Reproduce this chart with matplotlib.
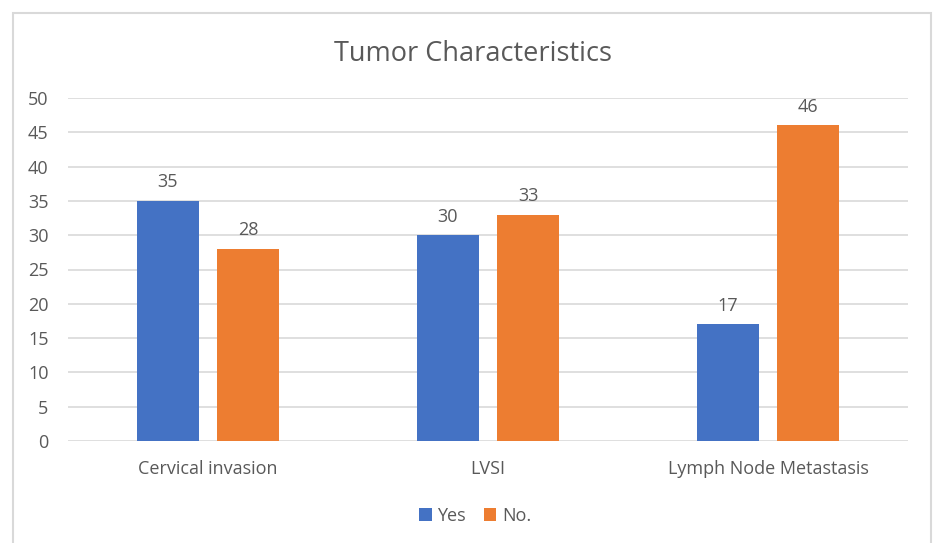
import matplotlib.pyplot as plt
import matplotlib.patches as mpatches
import numpy as np

categories = ["Cervical invasion", "LVSI", "Lymph Node Metastasis"]
yes_values = [35, 30, 17]
no_values = [28, 33, 46]
y_ticks = [0, 5, 10, 15, 20, 25, 30, 35, 40, 45, 50]

plt.rcParams['font.family'] = ['Open Sans', 'DejaVu Sans']
text_color = '#595959'

fig = plt.figure(figsize=(9.38, 5.43), dpi=100)

# light grey chart frame like excel
frame = mpatches.Rectangle((13/938, -0.1), (931-13)/938, 1 - 13/543 + 0.1,
                           transform=fig.transFigure, fill=False,
                           edgecolor='#d9d9d9', linewidth=1.5)
fig.patches.append(frame)

ax = fig.add_axes([68/938, 1-441/543, (908-68)/938, (441-98)/543])

x = np.arange(len(categories))
width = 0.221
off = 0.143
b1 = ax.bar(x - off, yes_values, width, color='#4472C4', label='Yes', zorder=3)
b2 = ax.bar(x + off, no_values, width, color='#ED7D31', label='No.', zorder=3)

for bars in (b1, b2):
    for b in bars:
        ax.text(b.get_x() + b.get_width()/2, b.get_height() + 1.4, str(int(b.get_height())),
                ha='center', va='bottom', fontsize=13, color=text_color)

ax.set_xlim(-0.5, 2.5)
ax.set_ylim(0, 50)
ax.set_yticks(y_ticks)
ax.set_xticks(x)
ax.set_xticklabels(categories)
ax.tick_params(axis='both', length=0, labelsize=13, colors=text_color)
ax.tick_params(axis='x', pad=14)
ax.tick_params(axis='y', pad=14)
ax.grid(axis='y', color='#d9d9d9', linewidth=1.2, zorder=0)
for s in ax.spines.values():
    s.set_visible(False)

fig.text(473/938, 1-54/543, "Tumor Characteristics", ha='center', va='center',
         fontsize=19.5, color=text_color)

fig.legend(handles=[b1, b2], loc='center', bbox_to_anchor=(475/938, 1-516/543),
           ncol=2, frameon=False, fontsize=13, handlelength=0.7, handleheight=0.7,
           columnspacing=1.0, handletextpad=0.3, labelcolor=text_color)

plt.savefig("out.png", dpi=100)
